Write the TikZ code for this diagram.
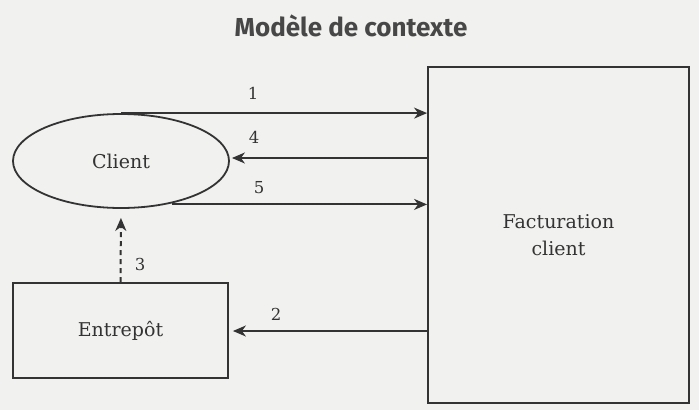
\documentclass[tikz,border=0pt]{standalone}
\usepackage{fontspec}
\newfontfamily\titlefont{Fira Sans}
\newfontfamily\bodyfont{DejaVu Serif}
\usetikzlibrary{arrows.meta,shapes.geometric}
\definecolor{ink}{HTML}{333333}
\definecolor{paper}{HTML}{F1F1EF}
\tikzset{
  boxnode/.style={draw=ink,line width=1.8pt,rectangle,inner sep=0pt,text=ink,font=\bodyfont\fontsize{19}{27}\selectfont,align=center},
  ellnode/.style={draw=ink,line width=1.8pt,ellipse,inner sep=0pt,text=ink,font=\bodyfont\fontsize{19}{27}\selectfont},
  flow/.style={draw=ink,line width=2pt,-{Stealth[length=13pt,width=11pt,inset=4pt]}},
  numlabel/.style={text=ink,inner sep=0pt,font=\bodyfont\fontsize{16.5}{20}\selectfont}
}
\begin{document}
\begin{tikzpicture}[x=1pt,y=-1pt]
\fill[paper] (0,0) rectangle (699,410);
\useasboundingbox (0,0) rectangle (699,410);
\node[text=ink!90,inner sep=0pt,font=\titlefont\bfseries\fontsize{26}{30}\selectfont] (title) at (351,26) {Modèle de contexte};
\node[boxnode,minimum width=261pt,minimum height=336pt] (fact) at (558.5,235) {Facturation\\client};
\node[ellnode,minimum width=216pt,minimum height=94pt] (client) at (121,161) {Client};
\node[boxnode,minimum width=215pt,minimum height=95pt] (ent) at (120.5,330.5) {Entrepôt};
% connectors
\draw[flow] (client.north) -- (client.north -| fact.west);
\draw[flow,shorten >=2pt] ([yshift=3pt]client.east -| fact.west) -- ([yshift=3pt]client.east);
\draw[flow] ([yshift=-1pt]client.-40) -- ([yshift=-1pt]client.-40 -| fact.west);
\draw[flow,shorten >=4pt] ([yshift=-0.5pt]ent.east -| fact.west) -- ([yshift=-0.5pt]ent.east);
\draw[flow,dashed,dash pattern=on 5pt off 4pt,shorten >=9pt] (ent.north) -- (client.south);
% labels
\node[numlabel] (l1) at (253,93) {1};
\node[numlabel] (l4) at (254,137) {4};
\node[numlabel] (l5) at (259,188) {5};
\node[numlabel] (l2) at (276,314) {2};
\node[numlabel] (l3) at (140,264) {3};
\end{tikzpicture}
\end{document}
